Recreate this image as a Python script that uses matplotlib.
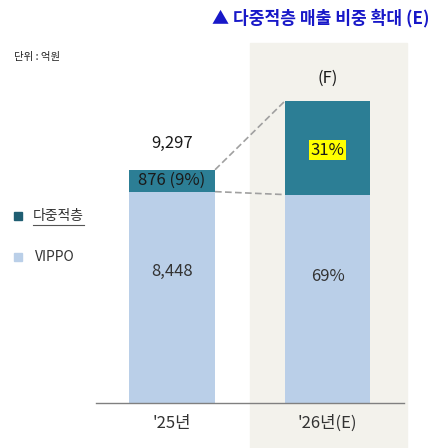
import matplotlib
matplotlib.use("Agg")
import matplotlib.pyplot as plt
from matplotlib.patches import Rectangle

plt.rcParams['font.family'] = ['Noto Sans CJK KR', 'DejaVu Sans']

# data (억원)
years = ["'25년", "'26년(E)"]
vippo = [8448, 8330]
multi = [876, 3730]
totals = [9297, 12060]
vippo_labels = ["8,448", "69%"]
multi_labels = ["876 (9%)", "31%"]

c_multi = '#2C7E95'
c_vippo = '#BACFE8'
c_beige = '#F3F2EC'

W, H = 435, 448
fig = plt.figure(figsize=(W / 100, H / 100), dpi=100)

# beige band behind the estimate year
fig.add_artist(Rectangle((250 / W, 0), 157 / W, (H - 43) / H,
                         transform=fig.transFigure, color=c_beige, zorder=0))

ax = fig.add_axes([96 / W, (H - 402.6) / H, 308 / W, 359.6 / H])
ax.patch.set_alpha(0)

x = [0, 1]
bw = 0.553
ax.bar(x, vippo, width=bw, color=c_vippo, zorder=2)
ax.bar(x, multi, width=bw, bottom=vippo, color=c_multi, zorder=2)

ax.set_xlim(-0.489, 1.492)
ax.set_ylim(0, 14400)

for s in ['top', 'right', 'left']:
    ax.spines[s].set_visible(False)
ax.spines['bottom'].set_color('#808080')
ax.spines['bottom'].set_linewidth(1.0)
ax.set_yticks([])
ax.set_xticks(x)
ax.set_xticklabels(years, fontsize=12, color='#333333')
ax.tick_params(axis='x', length=0, pad=9)

# connector lines
ax.plot([bw / 2, 1 - bw / 2], [vippo[0] + multi[0], vippo[1] + multi[1]],
        ls=(0, (4, 2)), color='#A0A0A0', lw=1.2, zorder=1)
ax.plot([bw / 2, 1 - bw / 2], [vippo[0], vippo[1]],
        ls=(0, (4, 2)), color='#A0A0A0', lw=1.2, zorder=1)

# value labels
ax.text(0, vippo[0] * 0.62, vippo_labels[0], ha='center', va='center', fontsize=12, color='#333333', zorder=3)
ax.text(1, vippo[1] * 0.605, vippo_labels[1], ha='center', va='center', fontsize=12, color='#333333', zorder=3)
ax.text(0, vippo[0] + multi[0] / 2, multi_labels[0], ha='center', va='center', fontsize=12, color='#1a1a1a', zorder=3)
ax.text(1, vippo[1] + multi[1] / 2 - 80, multi_labels[1], ha='center', va='center', fontsize=12, color='#1a1a1a', zorder=3,
        bbox=dict(boxstyle='square,pad=0.08', fc='#FFFF00', ec='none'))
ax.text(0, totals[0] + 1100, "9,297", ha='center', va='center', fontsize=12, color='#1a1a1a', zorder=3)
ax.text(1, totals[1] + 930, "(F)", ha='center', va='center', fontsize=12, color='#1a1a1a', zorder=3)

# title and unit
fig.text(430 / W, 1 - 18 / H, "▲ 다중적층 매출 비중 확대 (E)", ha='right', va='center',
         fontsize=12.3, fontweight='bold', color='#1818C8',
         family=['Noto Sans CJK KR', 'DejaVu Sans'])
fig.text(14 / W, 1 - 57 / H, "단위 : 억원", ha='left', va='center', fontsize=7.5,
         fontweight='medium', color='#222222')

# legend
fig.add_artist(Rectangle((14 / W, 1 - 220 / H), 8 / W, 8 / H, transform=fig.transFigure, color='#1F5E72'))
fig.text(33 / W, 1 - 216 / H, "다중적층", ha='left', va='center', fontsize=10,
         fontweight='medium', color='#333333')
fig.add_artist(plt.Line2D([33 / W, 84 / W], [1 - 225 / H, 1 - 225 / H], transform=fig.transFigure,
                          color='#555555', lw=0.8))
fig.add_artist(Rectangle((14 / W, 1 - 261 / H), 8 / W, 8 / H, transform=fig.transFigure, color=c_vippo))
fig.text(35 / W, 1 - 257 / H, "VIPPO", ha='left', va='center', fontsize=10, color='#333333')

fig.savefig('out.png', dpi=100)
